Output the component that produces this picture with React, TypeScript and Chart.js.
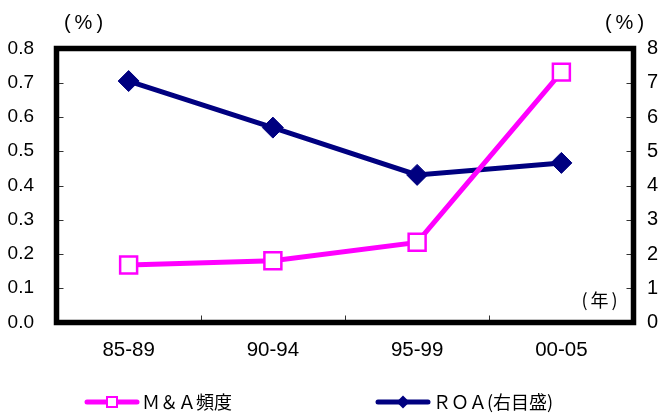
import React, { useEffect, useRef } from 'react';
import { Chart, registerables } from 'chart.js';

Chart.register(...registerables);

// Periods on the category axis
const periods = ['85-89', '90-94', '95-99', '00-05'];
// M&A frequency (%), left axis
const maFrequency = [0.168, 0.18, 0.234, 0.731];
// ROA (%), right axis
const roa = [7.05, 5.69, 4.31, 4.66];

// Axis tick values
const leftTickValues = [0, 0.1, 0.2, 0.3, 0.4, 0.5, 0.6, 0.7, 0.8];
const rightTickValues = [0, 1, 2, 3, 4, 5, 6, 7, 8];

// Texts
const maName = 'Ｍ＆Ａ頻度';
const roaName = 'ＲＯＡ(右目盛)';
const unitLabel = '(%)';
const yearLabel = '(年)';

const MAGENTA = '#FF00FF';
const NAVY = '#000080';
const LATIN_FONT = "'Liberation Sans', Arial, sans-serif";
const CJK_FONT = "'Noto Sans CJK JP', 'Noto Sans', sans-serif";

function spacedText(ctx: CanvasRenderingContext2D, text: string, cx: number, cy: number, spacing: number) {
  // draw characters one by one, centred as a group, with extra spacing
  const chars = Array.from(text);
  const widths = chars.map((c) => ctx.measureText(c).width);
  const total = widths.reduce((a, b) => a + b, 0) + spacing * (chars.length - 1);
  let x = cx - total / 2;
  ctx.textAlign = 'left';
  chars.forEach((c, i) => {
    ctx.fillText(c, x, cy);
    x += widths[i] + spacing;
  });
}

const framePlugin = {
  id: 'frame',
  beforeDatasetsDraw(chart: any) {
    const ctx: CanvasRenderingContext2D = chart.ctx;
    const { left, right, top, bottom } = chart.chartArea;
    const yL = chart.scales.yL;
    const yR = chart.scales.yR;
    const x = chart.scales.x;
    ctx.save();
    ctx.strokeStyle = '#333';
    ctx.lineWidth = 1;
    ctx.beginPath();
    yL.ticks.forEach((t: any) => {
      const py = Math.round(yL.getPixelForValue(t.value)) + 0.5;
      ctx.moveTo(left, py);
      ctx.lineTo(left + 7, py);
    });
    yR.ticks.forEach((t: any) => {
      const py = Math.round(yR.getPixelForValue(t.value)) + 0.5;
      ctx.moveTo(right - 7, py);
      ctx.lineTo(right, py);
    });
    for (let i = 1; i < periods.length; i++) {
      const px = Math.round((x.getPixelForValue(i - 1) + x.getPixelForValue(i)) / 2) + 0.5;
      ctx.moveTo(px, bottom);
      ctx.lineTo(px, bottom - 7);
    }
    ctx.stroke();
    ctx.strokeStyle = '#000';
    ctx.lineWidth = 5.5;
    ctx.strokeRect(left, top, right - left, bottom - top);
    ctx.restore();
  },
  afterDraw(chart: any) {
    const ctx: CanvasRenderingContext2D = chart.ctx;
    const { left, right, top, bottom } = chart.chartArea;
    ctx.save();
    ctx.fillStyle = '#000';
    ctx.textBaseline = 'middle';

    // unit labels above both axes and the year label inside the frame
    ctx.font = `20px ${LATIN_FONT}`;
    spacedText(ctx, unitLabel, left + 27, top - 25, 4);
    spacedText(ctx, unitLabel, right - 9, top - 25, 4);
    ctx.font = `18px ${CJK_FONT}`;
    spacedText(ctx, yearLabel, right - 34, bottom - 22, 3);

    // legend
    const ly = 402;
    const items = [
      { x0: 87, color: MAGENTA, label: maName, kind: 'square' },
      { x0: 378, color: NAVY, label: roaName, kind: 'diamond' },
    ];
    items.forEach((it) => {
      ctx.strokeStyle = it.color;
      ctx.lineWidth = 5;
      ctx.lineCap = 'round';
      ctx.beginPath();
      ctx.moveTo(it.x0, ly);
      ctx.lineTo(it.x0 + 50, ly);
      ctx.stroke();
      const cx = it.x0 + 25;
      if (it.kind === 'square') {
        ctx.fillStyle = '#fff';
        ctx.lineWidth = 2;
        ctx.fillRect(cx - 5, ly - 5, 10, 10);
        ctx.strokeRect(cx - 5, ly - 5, 10, 10);
      } else {
        ctx.fillStyle = it.color;
        ctx.beginPath();
        ctx.moveTo(cx - 6.5, ly);
        ctx.lineTo(cx, ly - 6.5);
        ctx.lineTo(cx + 6.5, ly);
        ctx.lineTo(cx, ly + 6.5);
        ctx.closePath();
        ctx.fill();
      }
      ctx.fillStyle = '#000';
      ctx.font = `18px ${CJK_FONT}`;
      ctx.textAlign = 'left';
      ctx.fillText(it.label, it.x0 + 55, ly);
    });
    ctx.restore();
  },
};

export default function App() {
  const canvasRef = useRef<HTMLCanvasElement | null>(null);

  useEffect(() => {
    const canvas = canvasRef.current;
    if (!canvas) return;
    const chart = new Chart(canvas, {
      type: 'line',
      data: {
        labels: periods,
        datasets: [
          {
            label: maName,
            data: maFrequency,
            yAxisID: 'yL',
            borderColor: MAGENTA,
            borderWidth: 5,
            tension: 0,
            pointStyle: 'rect',
            pointRadius: 12,
            pointBackgroundColor: '#fff',
            pointBorderColor: MAGENTA,
            pointBorderWidth: 2.5,
          },
          {
            label: roaName,
            data: roa,
            yAxisID: 'yR',
            borderColor: NAVY,
            borderWidth: 5,
            tension: 0,
            pointStyle: 'rectRot',
            pointRadius: 10.5,
            pointBackgroundColor: NAVY,
            pointBorderColor: NAVY,
            pointBorderWidth: 1,
          },
        ],
      },
      options: {
        responsive: false,
        animation: false,
        events: [],
        layout: { padding: { top: 48.5, left: 0, right: 0, bottom: 0 } },
        plugins: {
          legend: { display: false },
          tooltip: { enabled: false },
        },
        scales: {
          x: {
            type: 'category',
            offset: true,
            grid: { display: false, drawTicks: false },
            border: { display: false },
            ticks: {
              padding: 15.5,
              color: '#000',
              font: { family: LATIN_FONT, size: 20.5 },
              autoSkip: false,
              maxRotation: 0,
            },
            afterFit: (s: any) => {
              s.height = 90.5;
            },
          },
          yL: {
            type: 'linear',
            position: 'left',
            min: 0,
            max: 0.8,
            grid: { display: false, drawTicks: false },
            border: { display: false },
            afterBuildTicks: (s: any) => {
              s.ticks = leftTickValues.map((v) => ({ value: v }));
            },
            ticks: {
              padding: 22.5,
              color: '#000',
              font: { family: LATIN_FONT, size: 19 },
              callback: (v: any) => Number(v).toFixed(1),
            },
            afterFit: (s: any) => {
              s.width = 56.5;
            },
          },
          yR: {
            type: 'linear',
            position: 'right',
            min: 0,
            max: 8,
            grid: { display: false, drawTicks: false },
            border: { display: false },
            afterBuildTicks: (s: any) => {
              s.ticks = rightTickValues.map((v) => ({ value: v }));
            },
            ticks: {
              padding: 13.5,
              color: '#000',
              font: { family: LATIN_FONT, size: 20 },
              callback: (v: any) => String(v),
            },
            afterFit: (s: any) => {
              s.width = 27.5;
            },
          },
        },
      },
      plugins: [framePlugin],
    });
    return () => chart.destroy();
  }, []);

  return (
    <div style={{ position: 'absolute', left: 0, top: 0, width: 661, height: 413, background: '#fff' }}>
      <canvas ref={canvasRef} width={661} height={413} style={{ display: 'block' }} />
    </div>
  );
}
